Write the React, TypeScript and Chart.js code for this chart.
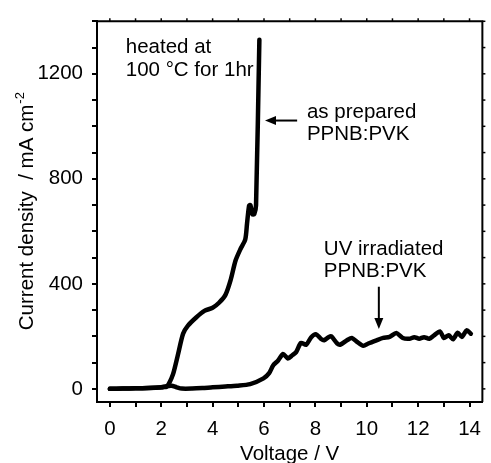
import React, { useEffect, useRef } from "react";
import { Chart, registerables } from "chart.js";

Chart.register(...registerables);

// As prepared PPNB:PVK
const voltageAsPrepared = [0, 0.5, 1, 1.5, 1.9, 2.1, 2.2, 2.3, 2.46, 2.65, 2.85, 3.04, 3.36, 3.68, 4.0, 4.25, 4.5, 4.7, 4.89, 5.08, 5.27, 5.34, 5.42, 5.47, 5.55, 5.62, 5.69, 5.82];
const currentAsPrepared = [0, 1, 2, 3, 5, 7, 8, 20, 56, 130, 210, 241, 272, 297, 309, 328, 358, 414, 488, 532, 569, 630, 698, 700, 665, 665, 700, 1330];

// UV irradiated PPNB:PVK
const voltageUV = [0, 0.5, 1, 1.5, 2.0, 2.2, 2.4, 2.6, 2.8, 3.2, 3.6, 4.0, 4.5, 4.95, 5.46, 5.98, 6.2, 6.36, 6.55, 6.74, 6.93, 7.1, 7.25, 7.44, 7.64, 7.83, 8.02, 8.21, 8.34, 8.53, 8.62, 8.85, 8.98, 9.23, 9.42, 9.62, 9.87, 10.06, 10.38, 10.64, 10.89, 11.15, 11.4, 11.66, 11.85, 12.04, 12.23, 12.43, 12.62, 12.85, 13.0, 13.19, 13.36, 13.54, 13.7, 13.89, 14.05];
const currentUV = [0, 1, 2, 3, 6, 10, 12, 6, 1, 1, 3, 6, 9, 12, 18, 40, 60, 90, 108, 133, 116, 128, 140, 175, 168, 196, 208, 191, 185, 198, 200, 173, 169, 185, 194, 179, 164, 173, 185, 194, 198, 213, 194, 191, 197, 191, 197, 191, 204, 219, 194, 204, 189, 214, 198, 223, 210];

const xTickValues = [0, 1, 2, 3, 4, 5, 6, 7, 8, 9, 10, 11, 12, 13, 14];
const xTickLabels = [0, 2, 4, 6, 8, 10, 12, 14];
const yTickValues = [0, 100, 200, 300, 400, 500, 600, 700, 800, 900, 1000, 1100, 1200, 1300, 1400];
const yTickLabels = [0, 400, 800, 1200];

const xTitle = "Voltage / V";
const yTitleMain = "Current density  / mA cm";
const yTitleSup = "-2";

// annotations (text in data coordinates)
const noteHeated = ["heated at", "100 \u00B0C for 1hr"];
const noteHeatedPos = [{ x: 0.62, y: 1280 }, { x: 0.62, y: 1191 }];
const noteAsPrepared = ["as prepared", "PPNB:PVK"];
const noteAsPreparedPos = [{ x: 7.67, y: 1032 }, { x: 7.67, y: 947 }];
const noteUV = ["UV irradiated", "PPNB:PVK"];
const noteUVPos = [{ x: 8.33, y: 510 }, { x: 8.33, y: 426 }];
const arrowAsPrepared = { x0: 7.29, y0: 1022, x1: 6.04, y1: 1022 };
const arrowUV = { x0: 10.47, y0: 389, x1: 10.47, y1: 228 };

const FONT = "Liberation Sans, Arial, Helvetica, sans-serif";
const FS = 20.5;

function drawArrow(ctx: CanvasRenderingContext2D, x0: number, y0: number, x1: number, y1: number) {
  const ang = Math.atan2(y1 - y0, x1 - x0);
  const headLen = 11;
  const headW = 4.5;
  const bx = x1 - Math.cos(ang) * headLen;
  const by = y1 - Math.sin(ang) * headLen;
  ctx.save();
  ctx.strokeStyle = "#000";
  ctx.fillStyle = "#000";
  ctx.lineWidth = 2;
  ctx.beginPath();
  ctx.moveTo(x0, y0);
  ctx.lineTo(bx, by);
  ctx.stroke();
  ctx.beginPath();
  ctx.moveTo(x1, y1);
  ctx.lineTo(bx + Math.sin(ang) * headW, by - Math.cos(ang) * headW);
  ctx.lineTo(bx - Math.sin(ang) * headW, by + Math.cos(ang) * headW);
  ctx.closePath();
  ctx.fill();
  ctx.restore();
}

const decorPlugin = {
  id: "decor",
  afterDraw(chart: any) {
    const ctx: CanvasRenderingContext2D = chart.ctx;
    const { left, right, top, bottom } = chart.chartArea;
    const xs = chart.scales.x;
    const ys = chart.scales.y;
    ctx.save();
    // top & right borders
    ctx.strokeStyle = "#000";
    ctx.lineWidth = 2;
    ctx.beginPath();
    ctx.moveTo(left, top);
    ctx.lineTo(right, top);
    ctx.lineTo(right, bottom);
    ctx.stroke();
    // mirror ticks
    ctx.lineWidth = 1.5;
    xTickValues.forEach((v) => {
      const px = xs.getPixelForValue(v);
      ctx.beginPath();
      ctx.moveTo(px, top);
      ctx.lineTo(px, top - 3);
      ctx.stroke();
    });
    yTickValues.forEach((v) => {
      const py = ys.getPixelForValue(v);
      ctx.beginPath();
      ctx.moveTo(right, py);
      ctx.lineTo(right + 3, py);
      ctx.stroke();
    });
    // axis titles
    ctx.fillStyle = "#000";
    ctx.font = `${FS}px ${FONT}`;
    ctx.textAlign = "center";
    ctx.textBaseline = "alphabetic";
    ctx.fillText(xTitle, (left + right) / 2, 460);

    ctx.save();
    const cy = (top + bottom) / 2;
    ctx.translate(33, cy);
    ctx.rotate(-Math.PI / 2);
    ctx.font = `${FS}px ${FONT}`;
    const wMain = ctx.measureText(yTitleMain).width;
    ctx.font = `13px ${FONT}`;
    const wSup = ctx.measureText(yTitleSup).width;
    const start = -(wMain + wSup) / 2;
    ctx.textAlign = "left";
    ctx.font = `${FS}px ${FONT}`;
    ctx.fillText(yTitleMain, start, 0);
    ctx.font = `13px ${FONT}`;
    ctx.fillText(yTitleSup, start + wMain + 1, -9);
    ctx.restore();

    // annotations
    ctx.font = `${FS}px ${FONT}`;
    ctx.textAlign = "left";
    const drawNote = (lines: string[], pos: { x: number; y: number }[]) => {
      lines.forEach((t, i) => {
        ctx.fillText(t, xs.getPixelForValue(pos[i].x), ys.getPixelForValue(pos[i].y));
      });
    };
    drawNote(noteHeated, noteHeatedPos);
    drawNote(noteAsPrepared, noteAsPreparedPos);
    drawNote(noteUV, noteUVPos);
    const a1 = arrowAsPrepared;
    drawArrow(ctx, xs.getPixelForValue(a1.x0), ys.getPixelForValue(a1.y0), xs.getPixelForValue(a1.x1), ys.getPixelForValue(a1.y1));
    const a2 = arrowUV;
    drawArrow(ctx, xs.getPixelForValue(a2.x0), ys.getPixelForValue(a2.y0), xs.getPixelForValue(a2.x1), ys.getPixelForValue(a2.y1));
    ctx.restore();
  },
};

export default function App() {
  const canvasRef = useRef<HTMLCanvasElement | null>(null);

  useEffect(() => {
    document.body.style.margin = "0";
    const canvas = canvasRef.current;
    if (!canvas) return;
    const ds1 = voltageAsPrepared.map((x, i) => ({ x, y: currentAsPrepared[i] }));
    const ds2 = voltageUV.map((x, i) => ({ x, y: currentUV[i] }));
    const lineStyle = {
      borderColor: "#000",
      borderWidth: 4.5,
      pointRadius: 0,
      tension: 0.25,
      borderCapStyle: "round",
      borderJoinStyle: "round",
      fill: false,
    };
    const chart = new Chart(canvas, {
      type: "line",
      data: {
        datasets: [
          { label: "as prepared PPNB:PVK", data: ds1, ...lineStyle },
          { label: "UV irradiated PPNB:PVK", data: ds2, ...lineStyle },
        ],
      },
      options: {
        responsive: false,
        animation: false,
        layout: { padding: { top: 12, right: 2, left: 0, bottom: 0 } },
        plugins: { legend: { display: false }, tooltip: { enabled: false } },
        scales: {
          x: {
            type: "linear",
            min: -0.5,
            max: 14.5,
            afterBuildTicks: (s: any) => {
              s.ticks = xTickValues.map((value) => ({ value }));
            },
            afterFit: (s: any) => {
              s.height = 61;
            },
            border: { display: true, color: "#000", width: 2 },
            grid: { display: true, drawOnChartArea: false, drawTicks: true, tickLength: 5, color: "#000", lineWidth: 2 },
            ticks: {
              autoSkip: false,
              maxRotation: 0,
              padding: 10,
              color: "#000",
              font: { family: FONT, size: FS },
              callback: (v: any) => (xTickLabels.includes(Number(v)) ? String(v) : ""),
            },
          },
          y: {
            type: "linear",
            min: -50,
            max: 1400,
            afterBuildTicks: (s: any) => {
              s.ticks = yTickValues.map((value) => ({ value }));
            },
            afterFit: (s: any) => {
              s.width = 97;
            },
            border: { display: true, color: "#000", width: 2 },
            grid: { display: true, drawOnChartArea: false, drawTicks: true, tickLength: 5, color: "#000", lineWidth: 2 },
            ticks: {
              autoSkip: false,
              padding: 9,
              color: "#000",
              font: { family: FONT, size: FS },
              callback: (v: any) => (yTickLabels.includes(Number(v)) ? String(v) : ""),
            },
          },
        },
      },
      plugins: [decorPlugin],
    } as any);
    return () => chart.destroy();
  }, []);

  return (
    <div style={{ position: "absolute", left: 0, top: 0, width: 491, height: 463, background: "#fff" }}>
      <canvas ref={canvasRef} width={491} height={463} style={{ width: 491, height: 463, display: "block" }} />
    </div>
  );
}
